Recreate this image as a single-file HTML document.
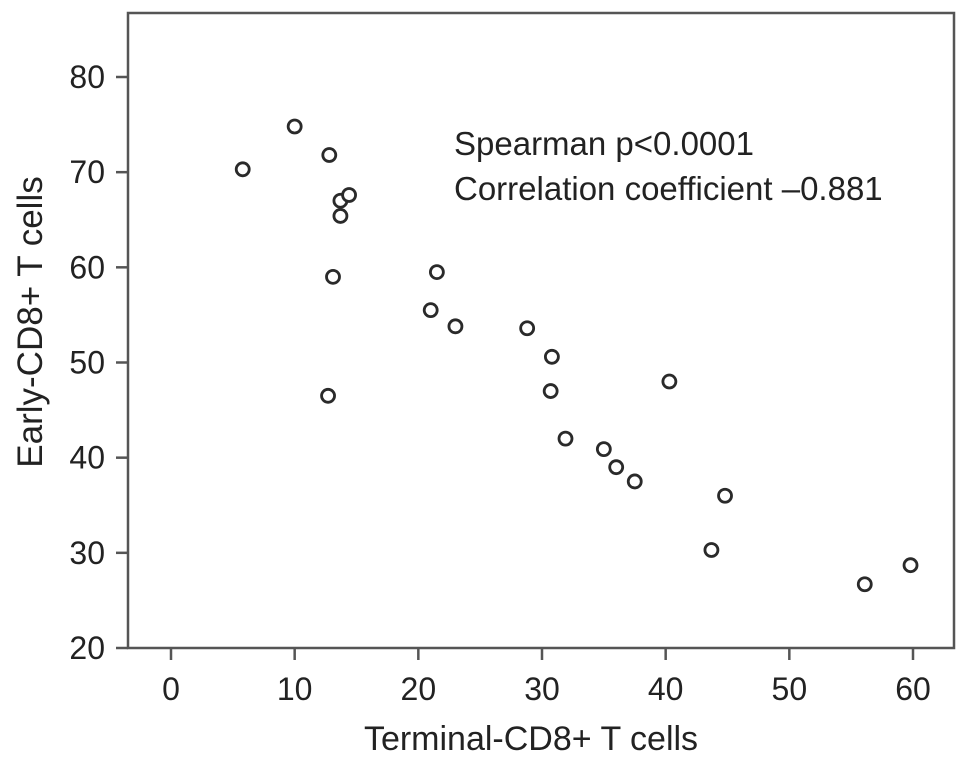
<!DOCTYPE html>
<html><head><meta charset="utf-8"><style>
html,body{margin:0;padding:0;background:#fff;}
svg{display:block;font-family:"Liberation Sans",sans-serif;}
</style></head><body>
<svg id="chart" width="969" height="762" viewBox="0 0 969 762">
<rect x="128" y="13" width="826" height="635" fill="none" stroke="#555" stroke-width="2.5"/>
<g id="xticks"></g>
<g id="yticks"></g>
<g id="points"></g>
<text x="531" y="750" font-size="34" text-anchor="middle" fill="#222">Terminal-CD8+ T cells</text>
<text transform="translate(42,322) rotate(-90)" font-size="35" text-anchor="middle" fill="#222">Early-CD8+ T cells</text>
<text x="454" y="155" font-size="33" fill="#222">Spearman p&lt;0.0001</text>
<text x="454" y="200" font-size="33" fill="#222">Correlation coefficient –0.881</text>
</svg>
<script>
const xTicks=[0,10,20,30,40,50,60];
const yTicks=[20,30,40,50,60,70,80];
const xValues=[5.8,10.0,12.8,13.7,14.4,13.7,13.1,12.7,21.5,21.0,23.0,28.8,30.8,30.7,31.9,35.0,36.0,37.5,40.3,44.8,43.7,56.1,59.8];
const yValues=[70.3,74.8,71.8,67.0,67.6,65.4,59.0,46.5,59.5,55.5,53.8,53.6,50.6,47.0,42.0,40.9,39.0,37.5,48.0,36.0,30.3,26.7,28.7];
const NS="http://www.w3.org/2000/svg";
const sx=v=>171+v*(913-171)/60;
const sy=v=>648-(v-20)*(648-77)/60;
function mk(t,a,p){const e=document.createElementNS(NS,t);for(const k in a)e.setAttribute(k,a[k]);p.appendChild(e);return e;}
const gx=document.getElementById('xticks'),gy=document.getElementById('yticks'),gp=document.getElementById('points');
xTicks.forEach(v=>{
 const l=mk('line',{x1:sx(v),x2:sx(v),y1:648,y2:660,stroke:'#555','stroke-width':2.5},gx);
 
 
 const t=mk('text',{x:sx(v),y:700,'font-size':32,'text-anchor':'middle',fill:'#222'},gx);t.textContent=v;
 
 
});
yTicks.forEach(v=>{
 const l=mk('line',{x1:116,x2:128,y1:sy(v),y2:sy(v),stroke:'#555','stroke-width':2.5},gy);
 
 
 const t=mk('text',{x:105,y:sy(v)+11,'font-size':32,'text-anchor':'end',fill:'#222'},gy);t.textContent=v;
 
 
});
xValues.forEach((x,i)=>{
 const c=mk('circle',{cx:sx(x),cy:sy(yValues[i]),r:6.5,fill:'#fff',stroke:'#2a2a2a','stroke-width':2.8},gp);
 
 
});
</script>
</body></html>
